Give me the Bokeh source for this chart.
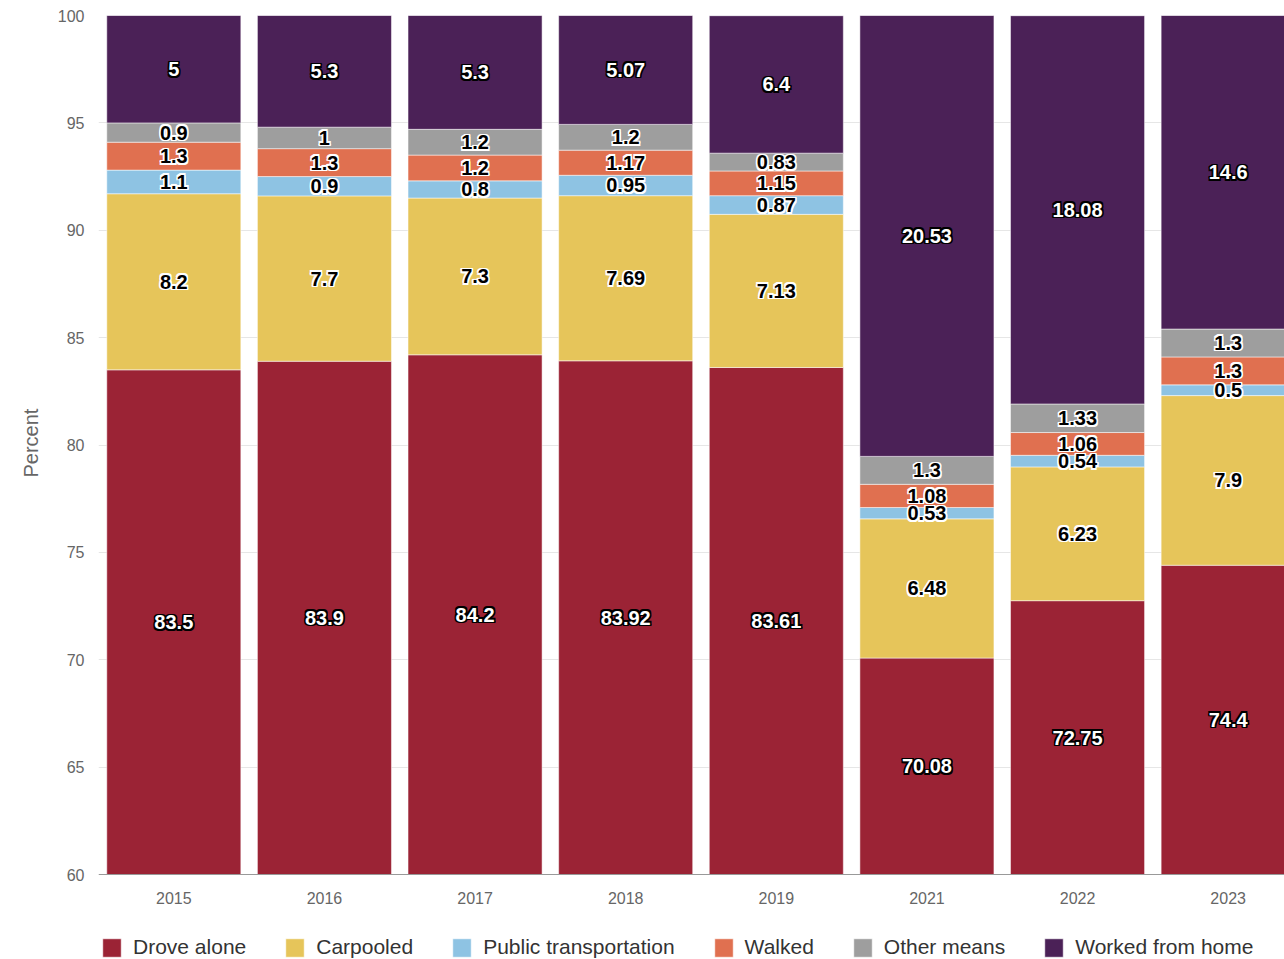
import numpy as np
from bokeh.plotting import figure
from bokeh.models import ColumnDataSource, Range1d, FixedTicker, Legend, Title, Span
from bokeh.core.properties import value
from bokeh.embed import file_html
from bokeh.resources import INLINE

years = ["2015", "2016", "2017", "2018", "2019", "2021", "2022", "2023"]
series_names = ["Drove alone", "Carpooled", "Public transportation", "Walked", "Other means", "Worked from home"]
drove_alone = [83.5, 83.9, 84.2, 83.92, 83.61, 70.08, 72.75, 74.4]
carpooled = [8.2, 7.7, 7.3, 7.69, 7.13, 6.48, 6.23, 7.9]
public_transportation = [1.1, 0.9, 0.8, 0.95, 0.87, 0.53, 0.54, 0.5]
walked = [1.3, 1.3, 1.2, 1.17, 1.15, 1.08, 1.06, 1.3]
other_means = [0.9, 1, 1.2, 1.2, 0.83, 1.3, 1.33, 1.3]
worked_from_home = [5, 5.3, 5.3, 5.07, 6.4, 20.53, 18.08, 14.6]
y_ticks = [60, 65, 70, 75, 80, 85, 90, 95, 100]

series_values = [drove_alone, carpooled, public_transportation, walked, other_means, worked_from_home]
colors = ["#9b2335", "#e6c55a", "#8ec3e3", "#e07050", "#9e9e9e", "#4b2157"]
text_fill = ["white", "black", "black", "black", "black", "white"]
text_outline = ["black", "white", "white", "white", "white", "black"]

FONT = "Liberation Sans"
YMIN, YMAX = 60, 100

# layout: plot area from y=15 (100) to y=874 (60); extra room below for labels + legend
W, H = 1284, 959
TOP, AXIS_Y = 15, 874
px_per_unit = (AXIS_Y - TOP) / (YMAX - YMIN)
view_min = YMIN - (H - AXIS_Y) / px_per_unit

p = figure(width=W, height=H, output_backend="svg", toolbar_location=None,
           title=None, x_range=Range1d(-0.5, 7.374), y_range=Range1d(view_min, YMAX),
           min_border_left=98, min_border_right=0, min_border_top=TOP, min_border_bottom=0)
p.outline_line_color = None
p.background_fill_color = "white"
p.xgrid.grid_line_color = None
p.ygrid.grid_line_color = "#e6e6e6"
p.ygrid.ticker = FixedTicker(ticks=y_ticks[1:])
p.xaxis.visible = False

xs = np.arange(len(years))
base = np.zeros(len(years))
renderers = []
label_sources = []
for name, vals, col in zip(series_names, series_values, colors):
    vals = np.array(vals, dtype=float)
    bottom = base.copy()
    top = base + vals
    vis_b = np.clip(bottom, YMIN, YMAX)
    vis_t = np.clip(top, YMIN, YMAX)
    src = ColumnDataSource(dict(x=xs, bottom=vis_b, top=top,
                                ly=(vis_b + vis_t) / 2,
                                lbl=[("%g" % v) for v in vals]))
    r = p.vbar(x="x", bottom="bottom", top="top", width=0.89, source=src,
               fill_color=col, line_color="white", line_alpha=0.5, line_width=1)
    renderers.append((name, [r]))
    label_sources.append(src)
    base = top

offsets = [(dx, dy) for dx in (-1.5, 0, 1.5) for dy in (-1.5, 0, 1.5) if (dx, dy) != (0, 0)]
for src, tf, to in zip(label_sources, text_fill, text_outline):
    for dx, dy in offsets:
        p.text(x="x", y="ly", text="lbl", source=src, text_align="center",
               text_baseline="middle", text_font=value(FONT), text_font_style="bold",
               text_font_size="20px", text_color=to, x_offset=dx, y_offset=dy)
    p.text(x="x", y="ly", text="lbl", source=src, text_align="center",
           text_baseline="middle", text_font=value(FONT), text_font_style="bold",
           text_font_size="20px", text_color=tf)

# category axis (baseline + year labels)
p.add_layout(Span(location=YMIN, dimension="width", line_color="#999999", line_width=1))
year_src = ColumnDataSource(dict(x=xs, y=[YMIN] * len(years), t=years))
p.text(x="x", y="y", text="t", source=year_src, text_align="center", text_baseline="middle",
       y_offset=23, text_font=value(FONT), text_font_size="16px", text_color="#666666")

p.yaxis.ticker = FixedTicker(ticks=y_ticks)
p.yaxis.axis_line_color = None
p.yaxis.major_tick_line_color = None
p.yaxis.major_tick_out = 0
p.yaxis.major_tick_in = 0
p.yaxis.minor_tick_line_color = None
p.yaxis.minor_tick_out = 0
p.yaxis.major_label_standoff = 14
p.yaxis.major_label_text_font = FONT
p.yaxis.major_label_text_font_size = "16px"
p.yaxis.major_label_text_color = "#666666"

ylab = Title(text="Percent", align="left", offset=482, standoff=25,
             text_font=FONT, text_font_style="normal", text_font_size="20px",
             text_color="#666666")
p.add_layout(ylab, "left")

legend = Legend(items=renderers, orientation="horizontal", location=(2, 0),
                glyph_width=23, glyph_height=23, label_standoff=10, spacing=37,
                padding=0, margin=0, border_line_color=None, background_fill_alpha=0,
                label_text_font=FONT, label_text_font_size="21px",
                label_text_color="#333333")
p.add_layout(legend, "center")

open("out.html", "w").write(file_html(p, INLINE))
